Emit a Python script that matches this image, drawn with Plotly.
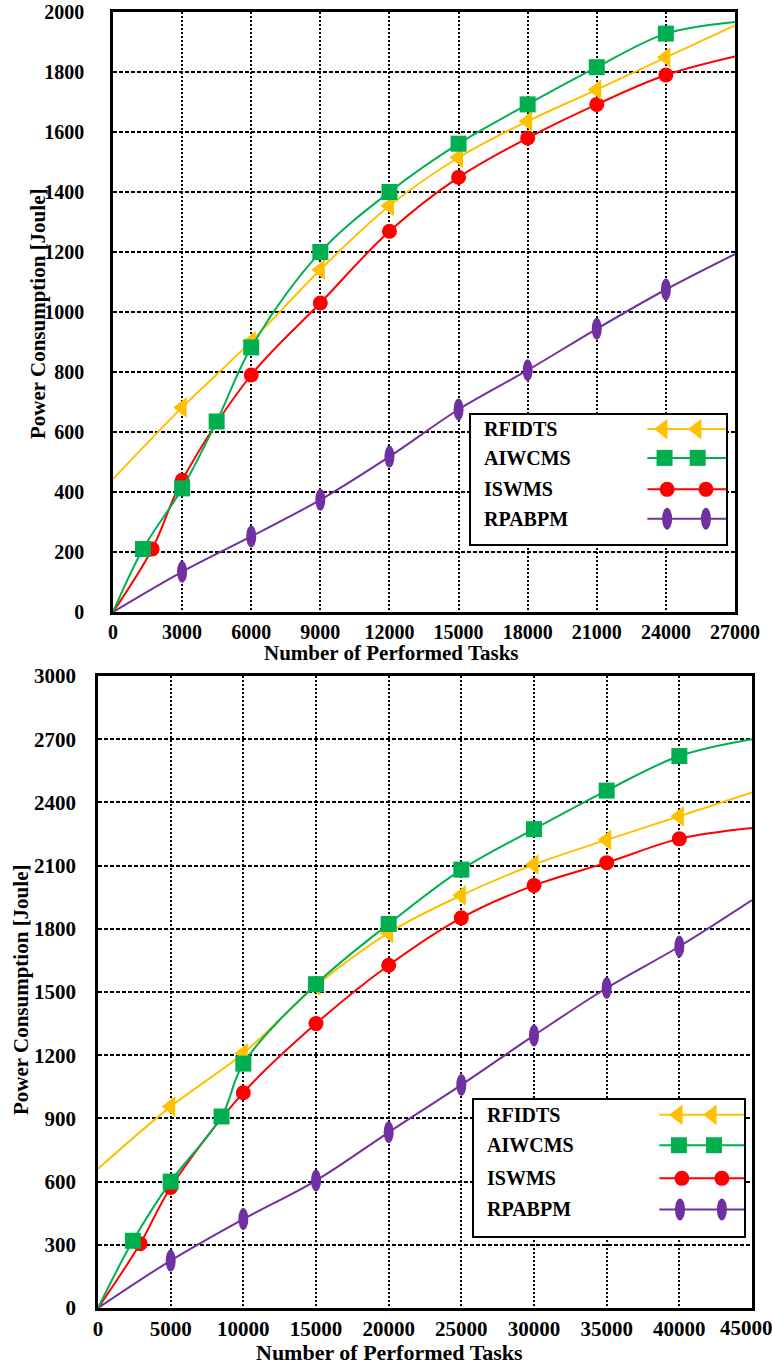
import plotly.graph_objects as go

W, H = 772, 1364
FONT = "Liberation Serif"

# ---------------- data: top chart ----------------
top_x_ticks = [0, 3000, 6000, 9000, 12000, 15000, 18000, 21000, 24000, 27000]
top_y_ticks = [0, 200, 400, 600, 800, 1000, 1200, 1400, 1600, 1800, 2000]

top_rfidts_x = [0, 3000, 6000, 9000, 12000, 15000, 18000, 21000, 24000, 27000]
top_rfidts_y = [443, 682, 902, 1141, 1354, 1515, 1636, 1741, 1849, 1955]
top_aiwcms_x = [0, 1300, 3000, 4500, 6000, 9000, 12000, 15000, 18000, 21000, 24000, 27000]
top_aiwcms_y = [0, 210, 412, 635, 882, 1200, 1400, 1561, 1692, 1816, 1928, 1967]
top_iswms_x = [0, 1700, 3000, 6000, 9000, 12000, 15000, 18000, 21000, 24000, 27000]
top_iswms_y = [0, 210, 439, 790, 1030, 1269, 1449, 1580, 1692, 1790, 1852]
top_rpabpm_x = [0, 3000, 6000, 9000, 12000, 15000, 18000, 21000, 24000, 27000]
top_rpabpm_y = [0, 134, 252, 374, 518, 675, 806, 944, 1075, 1193]

# ---------------- data: bottom chart ----------------
bot_x_ticks = [0, 5000, 10000, 15000, 20000, 25000, 30000, 35000, 40000, 45000]
bot_y_ticks = [0, 300, 600, 900, 1200, 1500, 1800, 2100, 2400, 2700, 3000]

bot_rfidts_x = [0, 5000, 10000, 15000, 20000, 25000, 30000, 35000, 40000, 45000]
bot_rfidts_y = [661, 956, 1209, 1530, 1781, 1959, 2105, 2222, 2334, 2447]
bot_aiwcms_x = [0, 2400, 5000, 8500, 10000, 15000, 20000, 25000, 30000, 35000, 40000, 45000]
bot_aiwcms_y = [0, 319, 600, 909, 1160, 1537, 1823, 2081, 2273, 2456, 2620, 2700]
bot_iswms_x = [0, 2900, 5000, 10000, 15000, 20000, 25000, 30000, 35000, 40000, 45000]
bot_iswms_y = [0, 305, 572, 1022, 1350, 1627, 1852, 2006, 2114, 2227, 2278]
bot_rpabpm_x = [0, 5000, 10000, 15000, 20000, 25000, 30000, 35000, 40000, 45000]
bot_rpabpm_y = [0, 225, 422, 605, 834, 1059, 1294, 1519, 1716, 1936]

series_names = ["RFIDTS", "AIWCMS", "ISWMS", "RPABPM"]
colors = {"RFIDTS": "#FFC000", "AIWCMS": "#00B050", "ISWMS": "#FF0000", "RPABPM": "#7030A0"}
symbols = {"RFIDTS": ("triangle-left", 18), "AIWCMS": ("square", 16), "ISWMS": ("circle", 15)}

x_title = "Number of Performed Tasks"
y_title = "Power Consumption [Joule]"

fig = go.Figure()
shapes = []


def add_series(name, xs, ys, xa, ya):
    c = colors[name]
    fig.add_trace(go.Scatter(x=xs, y=ys, mode="lines", line=dict(color=c, width=2, shape="spline"),
                             xaxis=xa, yaxis=ya, showlegend=False, hoverinfo="skip"))
    mx, my = xs[1:-1], ys[1:-1]
    if name in symbols:
        sym, sz = symbols[name]
        fig.add_trace(go.Scatter(x=mx, y=my, mode="markers",
                                 marker=dict(symbol=sym, size=sz, color=c, line=dict(width=0)),
                                 xaxis=xa, yaxis=ya, showlegend=False, hoverinfo="skip"))
    else:
        for xv, yv in zip(mx, my):
            shapes.append(dict(type="circle", xref=xa, yref=ya, xsizemode="pixel", ysizemode="pixel",
                               xanchor=xv, yanchor=yv, x0=-5, x1=5, y0=-11, y1=11,
                               fillcolor=c, line=dict(width=0), layer="above"))


top_data = {"RFIDTS": (top_rfidts_x, top_rfidts_y), "AIWCMS": (top_aiwcms_x, top_aiwcms_y),
            "ISWMS": (top_iswms_x, top_iswms_y), "RPABPM": (top_rpabpm_x, top_rpabpm_y)}
bot_data = {"RFIDTS": (bot_rfidts_x, bot_rfidts_y), "AIWCMS": (bot_aiwcms_x, bot_aiwcms_y),
            "ISWMS": (bot_iswms_x, bot_iswms_y), "RPABPM": (bot_rpabpm_x, bot_rpabpm_y)}

for n in ["RPABPM", "ISWMS", "RFIDTS", "AIWCMS"]:
    add_series(n, *top_data[n], "x", "y")
for n in ["RPABPM", "ISWMS", "RFIDTS", "AIWCMS"]:
    add_series(n, *bot_data[n], "x2", "y2")

# ---------------- custom legends ----------------
legend_rows = [0.885, 0.665, 0.425, 0.2]
legend_cfg = [
    ("x3", "y3", 0.69, {"RFIDTS": (0.751, 0.883), "AIWCMS": (0.757, 0.886),
                        "ISWMS": (0.767, 0.918), "RPABPM": (0.767, 0.918)}),
    ("x4", "y4", 0.685, {"RFIDTS": (0.754, 0.879), "AIWCMS": (0.757, 0.886),
                         "ISWMS": (0.768, 0.915), "RPABPM": (0.761, 0.915)}),
]
annotations = []
for xa, ya, lx0, mpos in legend_cfg:
    for n, ry in zip(series_names, legend_rows):
        c = colors[n]
        fig.add_trace(go.Scatter(x=[lx0, 1.0], y=[ry, ry], mode="lines", line=dict(color=c, width=2),
                                 xaxis=xa, yaxis=ya, showlegend=False, hoverinfo="skip"))
        if n in symbols:
            sym, sz = symbols[n]
            fig.add_trace(go.Scatter(x=list(mpos[n]), y=[ry, ry], mode="markers",
                                     marker=dict(symbol=sym, size=sz, color=c, line=dict(width=0)),
                                     xaxis=xa, yaxis=ya, showlegend=False, hoverinfo="skip"))
        else:
            for xv in mpos[n]:
                shapes.append(dict(type="circle", xref=xa, yref=ya, xsizemode="pixel", ysizemode="pixel",
                                   xanchor=xv, yanchor=ry, x0=-5, x1=5, y0=-11, y1=11,
                                   fillcolor=c, line=dict(width=0), layer="above"))
        annotations.append(dict(text=n, x=0.045, y=ry, xref=xa, yref=ya, xanchor="left", yanchor="middle",
                                showarrow=False, font=dict(family=FONT, size=20, color="black", weight="bold")))
    shapes.append(dict(type="rect", xref=xa + " domain", yref=ya + " domain", x0=0, x1=1, y0=0, y1=1,
                       line=dict(color="black", width=2), fillcolor="rgba(0,0,0,0)", layer="above"))


# ---------------- titles ----------------
def tfont(s):
    return dict(family=FONT, size=s, color="black", weight="bold")


title_common = dict(xref="paper", yref="paper", showarrow=False, xanchor="center", yanchor="middle")
annotations += [
    dict(text=x_title, x=391 / W, y=1 - 653 / H, font=tfont(21), **title_common),
    dict(text=y_title, x=38 / W, y=1 - 314 / H, textangle=-90, font=tfont(21), **title_common),
    dict(text=x_title, x=389 / W, y=1 - 1352 / H, font=tfont(22), **title_common),
    dict(text=y_title, x=21 / W, y=1 - 990 / H, textangle=-90, font=tfont(21), **title_common),
]

# last bottom x tick label is drawn shifted left so that it stays inside the page
bot_x_ticktext = [str(t) for t in bot_x_ticks[:-1]] + [""]
annotations.append(dict(text=str(bot_x_ticks[-1]), x=bot_x_ticks[-1], y=0, xref="x2", yref="y2",
                        xanchor="center", yanchor="top", xshift=-6, yshift=-6, showarrow=False,
                        font=tfont(21)))


def axis(domain, rng, ticks, anchor, griddash, standoff, fsize, ticktext=None):
    return dict(domain=domain, range=rng, tickvals=ticks,
                ticktext=ticktext if ticktext is not None else [str(t) for t in ticks], anchor=anchor,
                showgrid=True, gridcolor="black", gridwidth=2, griddash=griddash,
                showline=True, linecolor="black", linewidth=2.5, mirror=True, zeroline=False,
                ticks="", ticklabelstandoff=standoff, automargin=False, ticklabeloverflow="allow",
                tickfont=dict(family=FONT, size=fsize, color="black", weight="bold"), fixedrange=True)


def hidden(domain, anchor):
    return dict(domain=domain, range=[0, 1], anchor=anchor, visible=False, fixedrange=True, automargin=False)


layout = dict(
    width=W, height=H, margin=dict(l=0, r=0, t=0, b=0, autoexpand=False),
    paper_bgcolor="white", plot_bgcolor="white", showlegend=False,
    xaxis=axis([113 / W, 735 / W], [0, 27000], top_x_ticks, "y", "2px,2px", 0, 20),
    yaxis=axis([1 - 612 / H, 1 - 12 / H], [0, 2000], top_y_ticks, "x", "4px,2px", 22, 20),
    xaxis2=axis([98 / W, 752 / W], [0, 45000], bot_x_ticks, "y2", "2px,2px", 0, 21, bot_x_ticktext),
    yaxis2=axis([1 - 1308 / H, 1 - 676 / H], [0, 3000], bot_y_ticks, "x2", "4px,2px", 15, 21),
    xaxis3=hidden([470 / W, 727 / W], "y3"),
    yaxis3=hidden([1 - 545 / H, 1 - 414 / H], "x3"),
    xaxis4=hidden([473 / W, 745 / W], "y4"),
    yaxis4=hidden([1 - 1237 / H, 1 - 1099 / H], "x4"),
    shapes=shapes, annotations=annotations,
)
fig.update_layout(**layout)

fig.add_shape(type="rect", xref="x3 domain", yref="y3 domain", x0=0, x1=1, y0=0, y1=1,
              fillcolor="white", line=dict(width=0), layer="below")
fig.add_shape(type="rect", xref="x4 domain", yref="y4 domain", x0=0, x1=1, y0=0, y1=1,
              fillcolor="white", line=dict(width=0), layer="below")

fig.write_html("out.html")
